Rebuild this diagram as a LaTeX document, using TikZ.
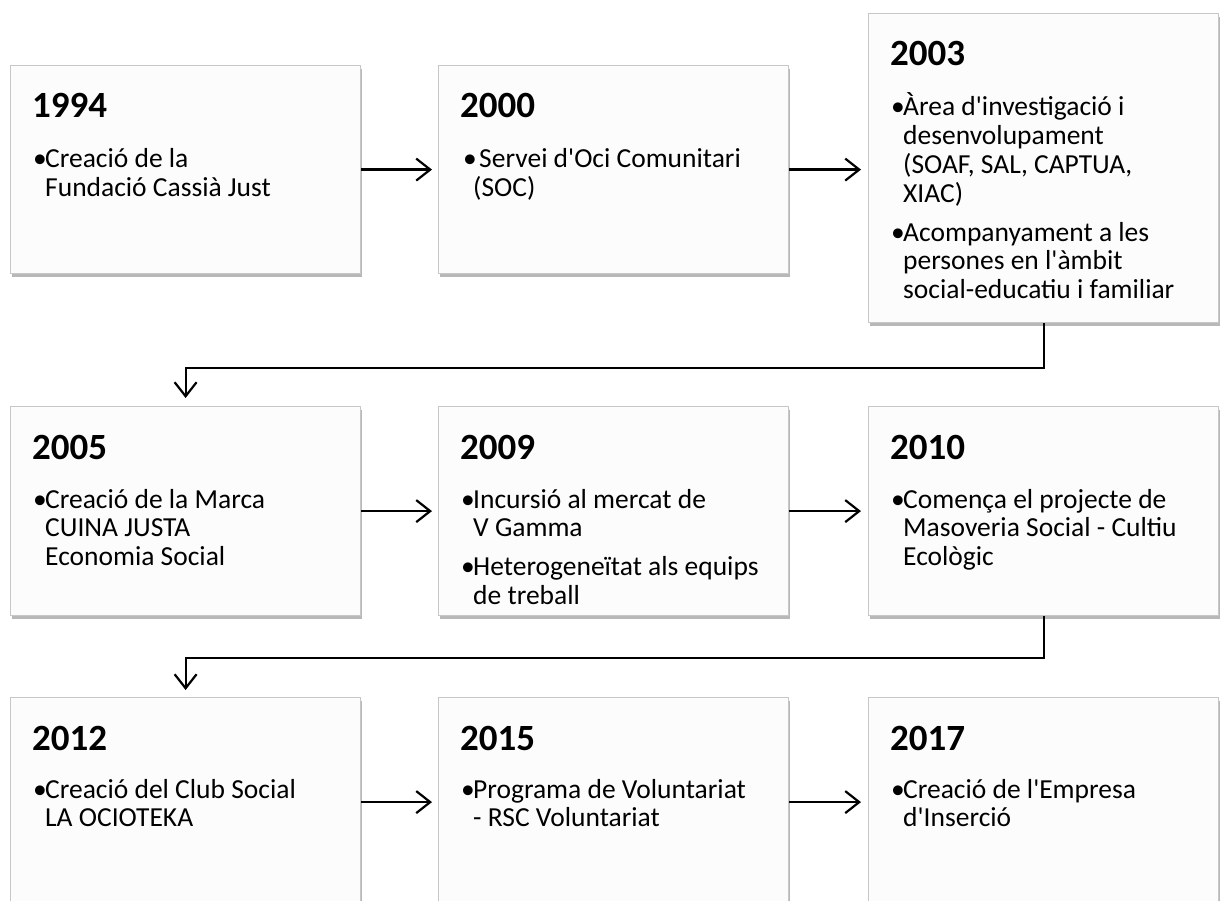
\documentclass[tikz,border=0pt]{standalone}
\usepackage{fontspec}
\setmainfont{Carlito}[Ligatures=TeXOff]
\usetikzlibrary{arrows.meta,shadows,calc}
\newcommand\itm{\par\noindent\hangindent=12pt\hangafter=1\makebox[12pt][l]{\textbullet}}
\newcommand\itmgap{\par\vspace{10pt}}
\newcommand\bodytext[1]{\parbox[t]{340pt}{\fontsize{27.5}{28.8}\selectfont\baselineskip=28.8pt\parindent=0pt #1\par}}
\tikzset{
  box/.style={draw=black!22, line width=1.2pt, fill=black!1, anchor=north west,
    minimum width=350pt, inner sep=0pt,
    drop shadow={shadow xshift=1.5pt, shadow yshift=-3pt, fill=black, opacity=0.28}},
  yr/.style={anchor=base west, inner sep=0pt, font=\fontsize{37}{40}\selectfont\bfseries},
  body/.style={anchor=base west, inner sep=0pt},
  arr/.style={line width=2.2pt, -{Straight Barb[length=14pt,width=22pt]}}
}
\begin{document}
\begin{tikzpicture}[x=1pt,y=1pt]
\fill[white] (0,0) rectangle (1220,-901);
\useasboundingbox (0,0) rectangle (1220,-901);
% row 1
\node[box, minimum height=208pt] (b1) at (10,-65) {};
\node[box, minimum height=208pt] (b2) at (438,-65) {};
\node[box, minimum height=309pt] (b3) at (868,-13) {};
% row 2
\node[box, minimum height=209pt] (b4) at (10,-406) {};
\node[box, minimum height=209pt] (b5) at (438,-406) {};
\node[box, minimum height=209pt] (b6) at (868,-406) {};
% row 3
\node[box, minimum height=209pt] (b7) at (10,-697) {};
\node[box, minimum height=209pt] (b8) at (438,-697) {};
\node[box, minimum height=209pt] (b9) at (868,-697) {};

\node[yr] (y1) at ($(b1.north west)+(22,-53)$) {1994};
\node[body] (t1) at ($(b1.north west)+(23,-103)$) {\bodytext{\itm Creació de la\newline Fundació Cassià Just}};

\node[yr] (y2) at ($(b2.north west)+(22,-53)$) {2000};
\node[body] (t2) at ($(b2.north west)+(23,-103)$) {\bodytext{\noindent\hangindent=12pt\hangafter=1\makebox[12pt][l]{\hspace{2pt}\textbullet}\hspace{6pt}Servei d'Oci Comunitari\newline (SOC)}};

\node[yr] (y3) at ($(b3.north west)+(22,-53)$) {2003};
\node[body] (t3) at ($(b3.north west)+(23,-103)$) {\bodytext{\itm Àrea d'investigació i\newline desenvolupament\newline (SOAF, SAL, CAPTUA,\newline XIAC)\itmgap\itm Acompanyament a les\newline persones en l'àmbit\newline social-educatiu i familiar}};

\node[yr] (y4) at ($(b4.north west)+(22,-53)$) {2005};
\node[body] (t4) at ($(b4.north west)+(23,-102)$) {\bodytext{\itm Creació de la Marca\newline CUINA JUSTA\newline Economia Social}};

\node[yr] (y5) at ($(b5.north west)+(22,-53)$) {2009};
\node[body] (t5) at ($(b5.north west)+(23,-102)$) {\bodytext{\itm Incursió al mercat de\newline V Gamma\itmgap\itm Heterogeneïtat als equips\newline de treball}};

\node[yr] (y6) at ($(b6.north west)+(22,-53)$) {2010};
\node[body] (t6) at ($(b6.north west)+(23,-102)$) {\bodytext{\itm Comença el projecte de\newline Masoveria Social - Cultiu\newline Ecològic}};

\node[yr] (y7) at ($(b7.north west)+(22,-53)$) {2012};
\node[body] (t7) at ($(b7.north west)+(23,-101)$) {\bodytext{\itm Creació del Club Social\newline LA OCIOTEKA}};

\node[yr] (y8) at ($(b8.north west)+(22,-53)$) {2015};
\node[body] (t8) at ($(b8.north west)+(23,-101)$) {\bodytext{\itm Programa de Voluntariat\newline - RSC Voluntariat}};

\node[yr] (y9) at ($(b9.north west)+(22,-53)$) {2017};
\node[body] (t9) at ($(b9.north west)+(23,-101)$) {\bodytext{\itm Creació de l'Empresa\newline d'Inserció}};

% connectors
\draw[arr] (b1.east) -- ($(b2.west)+(-6,0)$);
\draw[arr] (b2.east) -- ($(b2.east -| b3.west)+(-7,0)$);
\draw[arr] (b3.south) -- ++(0,-45) -| ($(b4.north)+(0,8)$);
\draw[arr] (b4.east) -- ($(b5.west)+(-6,0)$);
\draw[arr] (b5.east) -- ($(b6.west)+(-7,0)$);
\draw[arr] (b6.south) -- ++(0,-42) -| ($(b7.north)+(0,7)$);
\draw[arr] (b7.east) -- ($(b8.west)+(-6,0)$);
\draw[arr] (b8.east) -- ($(b9.west)+(-7,0)$);
\end{tikzpicture}
\end{document}
